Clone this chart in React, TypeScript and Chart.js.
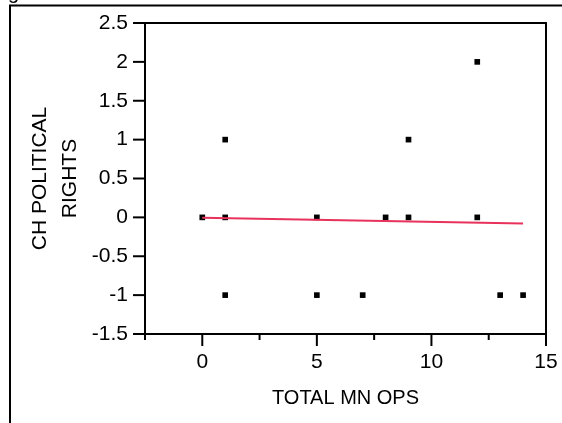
import React, { useEffect, useRef } from "react";
import { Chart, registerables } from "chart.js";

Chart.register(...registerables);

const xValues = [0, 1, 1, 1, 5, 5, 7, 8, 9, 9, 12, 12, 13, 14];
const yValues = [0, 0, 1, -1, 0, -1, -1, 0, 0, 1, 0, 2, -1, -1];
const fitX = [0, 14];
const fitY = [-0.005, -0.08];
const xTickStep = 2.5;
const yTickStep = 0.5;
const xTitle = "TOTAL MN OPS";
const yTitle = ["CH POLITICAL", "RIGHTS"];

const FONT = "'Liberation Sans', Arial, sans-serif";

const framePlugin = {
  id: "frame",
  afterDraw(chart: any) {
    const { ctx, chartArea } = chart;
    const { left, right, top, bottom } = chartArea;
    const xs = chart.scales.x;
    const ys = chart.scales.y;
    ctx.save();
    ctx.strokeStyle = "#000";
    ctx.lineWidth = 2;
    // outer frame
    ctx.beginPath();
    ctx.moveTo(10, 423);
    ctx.lineTo(10, 5.5);
    ctx.lineTo(562, 5.5);
    ctx.stroke();
    // partial text glyph at top-left
    ctx.fillStyle = "#000";
    ctx.font = "20px " + FONT;
    ctx.textBaseline = "alphabetic";
    ctx.fillText("g", 8, -1);
    // plot frame
    ctx.strokeRect(left, top, right - left, bottom - top);
    // y ticks
    ys.ticks.forEach((t: any) => {
      const py = ys.getPixelForValue(t.value);
      ctx.beginPath();
      ctx.moveTo(left - 12, py);
      ctx.lineTo(left, py);
      ctx.stroke();
    });
    // x ticks
    xs.ticks.forEach((t: any) => {
      const px = xs.getPixelForValue(t.value);
      const major = Math.abs(t.value % 5) < 1e-9;
      ctx.beginPath();
      ctx.moveTo(px, bottom);
      ctx.lineTo(px, bottom + (major ? 12 : 6));
      ctx.stroke();
    });
    ctx.restore();
  },
};

export default function App() {
  const ref = useRef<HTMLCanvasElement>(null);
  useEffect(() => {
    const points = xValues.map((x, i) => ({ x, y: yValues[i] }));
    const fit = fitX.map((x, i) => ({ x, y: fitY[i] }));
    const chart = new Chart(ref.current!, {
      type: "scatter",
      data: {
        datasets: [
          {
            type: "line",
            data: fit,
            borderColor: "#e8315b",
            borderWidth: 2,
            pointRadius: 0,
            fill: false,
          } as any,
          {
            data: points,
            pointStyle: "rect",
            pointRadius: 4,
            pointBackgroundColor: "#000",
            pointBorderColor: "#000",
            pointBorderWidth: 0,
          },
        ],
      },
      options: {
        animation: false,
        responsive: false,
        devicePixelRatio: 1,
        layout: { padding: { left: 0, top: 23, right: 16, bottom: 0 } },
        plugins: { legend: { display: false }, tooltip: { enabled: false } },
        scales: {
          x: {
            type: "linear",
            min: -2.5,
            max: 15,
            afterFit: (s: any) => {
              s.height = 89;
              s.paddingLeft = 0;
              s.paddingRight = 0;
            },
            grid: { display: false, drawTicks: false },
            border: { display: false },
            ticks: {
              stepSize: xTickStep,
              autoSkip: false,
              maxRotation: 0,
              padding: 16,
              color: "#000",
              font: { family: FONT, size: 21 },
              callback: (v: any) =>
                Math.abs(Number(v) % 5) < 1e-9 ? String(v) : "",
            },
            title: {
              display: true,
              text: xTitle,
              color: "#000",
              font: { family: FONT, size: 20 },
              padding: { top: 0, bottom: 13 },
            },
          },
          y: {
            type: "linear",
            min: -1.5,
            max: 2.5,
            afterFit: (s: any) => {
              s.width = 145;
              s.paddingTop = 0;
              s.paddingBottom = 0;
            },
            grid: { display: false, drawTicks: false },
            border: { display: false },
            ticks: {
              stepSize: yTickStep,
              autoSkip: false,
              padding: 17,
              color: "#000",
              font: { family: FONT, size: 21 },
              callback: (v: any) => String(v),
            },
            title: {
              display: true,
              text: yTitle,
              color: "#000",
              font: { family: FONT, size: 21, lineHeight: 30 / 21 },
              padding: { top: 25, bottom: 0 },
            },
          },
        },
      },
      plugins: [framePlugin],
    });
    return () => chart.destroy();
  }, []);
  return (
    <div
      style={{
        position: "fixed",
        left: 0,
        top: 0,
        width: 562,
        height: 423,
        background: "#fff",
      }}
    >
      <canvas ref={ref} width={562} height={423} />
    </div>
  );
}
